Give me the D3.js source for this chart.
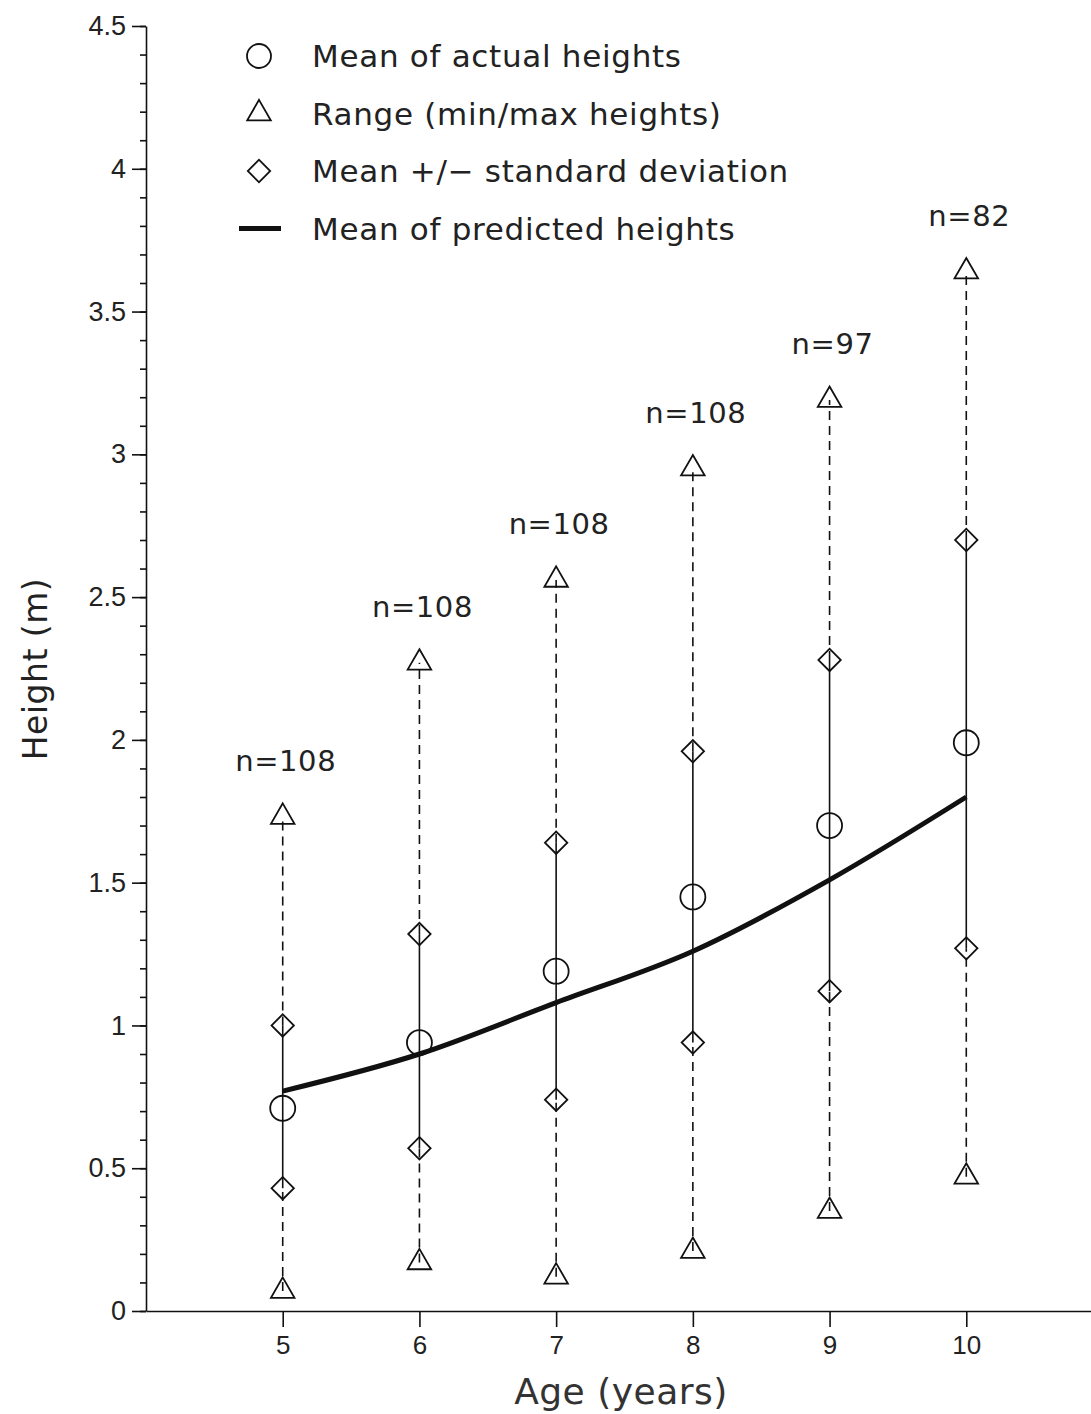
<!DOCTYPE html>
<html>
<head>
<meta charset="utf-8">
<script src="https://cdn.jsdelivr.net/npm/d3@7"></script>
<style>
  body { margin: 0; background: #fff; }
  svg { display: block; font-family: "DejaVu Sans", sans-serif; }
  .axis path, .axis line { stroke: #111; stroke-width: 1.6; }
  .axis text { fill: #222; }
</style>
</head>
<body>
<svg id="chart"></svg>
<script>
  // ages and measured heights (m)
  const ages = [5, 6, 7, 8, 9, 10];
  const meanActual = [0.71, 0.94, 1.19, 1.45, 1.70, 1.99];
  const minHeight = [0.07, 0.17, 0.12, 0.21, 0.35, 0.47];
  const maxHeight = [1.73, 2.27, 2.56, 2.95, 3.19, 3.64];
  const sdLower = [0.43, 0.57, 0.74, 0.94, 1.12, 1.27];
  const sdUpper = [1.00, 1.32, 1.64, 1.96, 2.28, 2.70];
  const meanPredicted = [0.77, 0.90, 1.08, 1.26, 1.51, 1.80];
  const counts = [108, 108, 108, 108, 97, 82];
  const yTickLabels = ["0", "0.5", "1", "1.5", "2", "2.5", "3", "3.5", "4", "4.5"];

  const width = 1091;
  const height = 1414;
  const svg = d3.select("#chart").attr("width", width).attr("height", height);

  const xScale = d3.scaleLinear().domain([4, 11]).range([146, 1103]);
  const yScale = d3.scaleLinear().domain([0, 4.5]).range([1311, 26]);

  const rows = ages.map((a, i) => ({
    age: a, mean: meanActual[i], min: minHeight[i], max: maxHeight[i],
    lo: sdLower[i], hi: sdUpper[i], pred: meanPredicted[i], n: counts[i]
  }));

  // y axis: minor ticks every 0.1, major every 0.5
  const minorTicks = d3.range(0, 46).map(d => d / 10);
  svg.append("g")
    .attr("class", "axis")
    .attr("transform", `translate(${xScale(4)},0)`)
    .call(d3.axisLeft(yScale).tickValues(minorTicks).tickSize(6).tickFormat(""))
    .call(g => g.select(".domain").remove());

  svg.append("g")
    .attr("class", "axis")
    .attr("transform", `translate(${xScale(4)},0)`)
    .call(d3.axisLeft(yScale)
      .tickValues(yTickLabels.map(Number))
      .tickSize(14)
      .tickSizeOuter(0)
      .tickPadding(6)
      .tickFormat((d, i) => yTickLabels[i]))
    .call(g => g.selectAll("text").style("font-size", "27px"));

  // x axis
  svg.append("g")
    .attr("class", "axis")
    .attr("transform", `translate(0,${yScale(0)})`)
    .call(d3.axisBottom(xScale)
      .tickValues(ages)
      .tickSize(16)
      .tickSizeOuter(0)
      .tickPadding(9)
      .tickFormat(d3.format("d")))
    .call(g => g.selectAll("text").style("font-size", "26px"));

  // axis titles
  svg.append("text")
    .attr("x", 621)
    .attr("y", 1404)
    .attr("text-anchor", "middle")
    .style("font-size", "36px")
    .style("letter-spacing", "0.5px")
    .style("fill", "#333")
    .text("Age (years)");

  svg.append("text")
    .attr("transform", "translate(47,669) rotate(-90)")
    .attr("text-anchor", "middle")
    .style("font-size", "33px")
    .style("letter-spacing", "0.5px")
    .style("fill", "#222")
    .text("Height (m)");

  const ink = "#111";

  // dashed range segments
  const dashed = svg.append("g")
    .attr("stroke", ink).attr("stroke-width", 1.6).attr("stroke-dasharray", "9,6");
  rows.forEach(d => {
    dashed.append("line")
      .attr("x1", xScale(d.age)).attr("x2", xScale(d.age))
      .attr("y1", yScale(d.min)).attr("y2", yScale(d.lo));
    dashed.append("line")
      .attr("x1", xScale(d.age)).attr("x2", xScale(d.age))
      .attr("y1", yScale(d.hi)).attr("y2", yScale(d.max));
  });

  // solid +/- sd segments
  svg.append("g").selectAll("line")
    .data(rows)
    .join("line")
    .attr("x1", d => xScale(d.age)).attr("x2", d => xScale(d.age))
    .attr("y1", d => yScale(d.lo)).attr("y2", d => yScale(d.hi))
    .attr("stroke", ink).attr("stroke-width", 1.6);

  // predicted mean line
  const line = d3.line()
    .x(d => xScale(d.age))
    .y(d => yScale(d.pred))
    .curve(d3.curveMonotoneX);

  svg.append("path")
    .datum(rows)
    .attr("d", line)
    .attr("fill", "none")
    .attr("stroke", ink)
    .attr("stroke-width", 5);

  const triangle = d3.symbol().type(d3.symbolTriangle).size(240);
  const square = d3.symbol().type(d3.symbolSquare).size(250);

  function markerPath(kind) {
    return kind === "tri" ? triangle() : square();
  }
  function markerRotate(kind) {
    return kind === "dia" ? " rotate(45)" : "";
  }

  function drawMarkers(g, key, kind) {
    g.selectAll("." + key)
      .data(rows)
      .join(kind === "circle" ? "circle" : "path")
      .attr("class", key)
      .each(function (d) {
        const el = d3.select(this);
        const cx = xScale(d.age), cy = yScale(d[key]);
        if (kind === "circle") {
          el.attr("cx", cx).attr("cy", cy).attr("r", 12.5);
        } else {
          el.attr("d", markerPath(kind))
            .attr("transform", `translate(${cx},${cy})` + markerRotate(kind));
        }
      })
      .attr("fill", "none")
      .attr("stroke", ink)
      .attr("stroke-width", 1.8);
  }

  const marks = svg.append("g");
  drawMarkers(marks, "min", "tri");
  drawMarkers(marks, "max", "tri");
  drawMarkers(marks, "lo", "dia");
  drawMarkers(marks, "hi", "dia");
  drawMarkers(marks, "mean", "circle");

  // sample sizes
  svg.append("g").selectAll("text")
    .data(rows)
    .join("text")
    .attr("x", d => xScale(d.age) + 3)
    .attr("y", d => yScale(d.max) - 46)
    .attr("text-anchor", "middle")
    .style("font-size", "29px")
    .style("letter-spacing", "0.6px")
    .style("fill", "#222")
    .text(d => "n=" + d.n);

  // legend
  const legendItems = [
    { label: "Mean of actual heights", kind: "circle" },
    { label: "Range (min/max heights)", kind: "tri" },
    { label: "Mean +/\u2212 standard deviation", kind: "dia" },
    { label: "Mean of predicted heights", kind: "line" }
  ];
  const legend = svg.append("g").attr("transform", "translate(259,56)");
  legendItems.forEach((item, i) => {
    const g = legend.append("g").attr("transform", `translate(0,${i * 57.5})`);
    if (item.kind === "circle") {
      g.append("circle").attr("r", 12);
    } else if (item.kind === "line") {
      g.append("line").attr("x1", -20).attr("x2", 22).attr("y1", 0).attr("y2", 0)
        .attr("stroke-width", 5);
    } else {
      g.append("path").attr("d", markerPath(item.kind))
        .attr("transform", markerRotate(item.kind));
    }
    g.selectAll("circle, path, line")
      .attr("fill", "none").attr("stroke", ink)
      .filter(function () { return this.tagName !== "line"; })
      .attr("stroke-width", 1.8);
    g.append("text")
      .attr("x", 53)
      .attr("y", 11)
      .style("font-size", "31px")
      .style("letter-spacing", "0.7px")
      .style("fill", "#222")
      .text(item.label);
  });
</script>
</body>
</html>
